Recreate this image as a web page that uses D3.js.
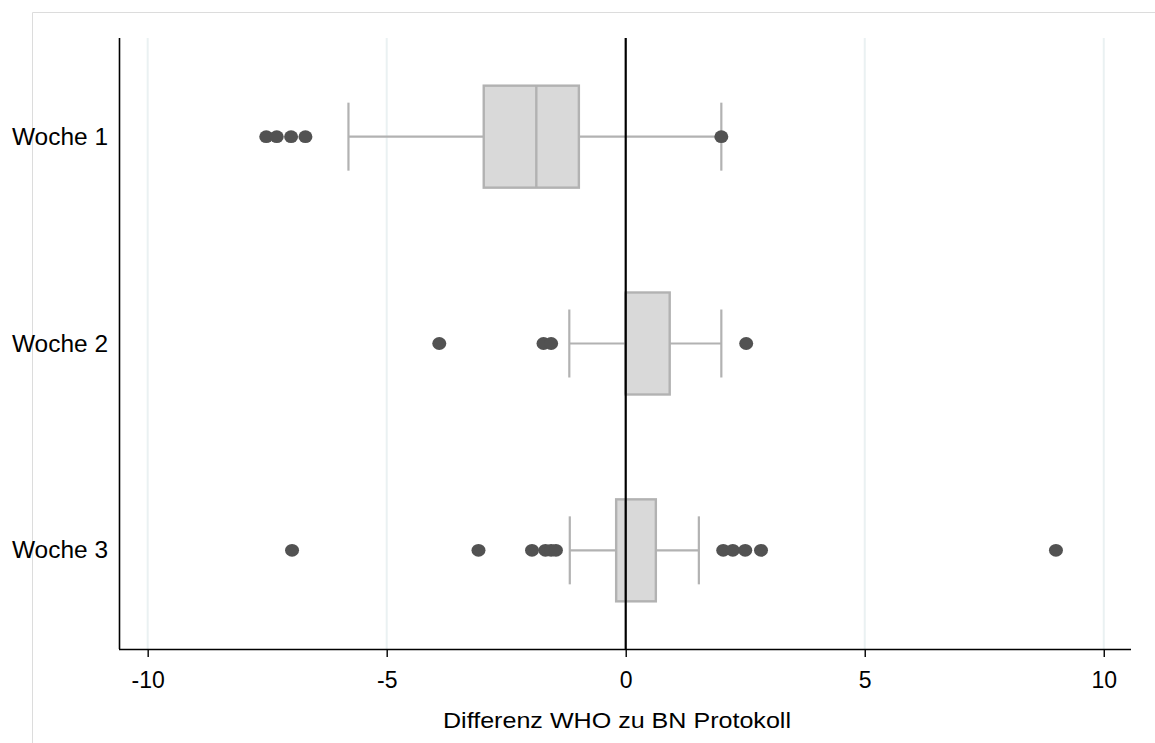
<!DOCTYPE html>
<html>
<head>
<meta charset="utf-8">
<script src="https://cdn.jsdelivr.net/npm/d3@7"></script>
<style>
  html, body { margin: 0; padding: 0; background: #fff; }
  svg { display: block; }
  text { font-family: "Liberation Sans", Arial, sans-serif; fill: #000; }
</style>
</head>
<body>
<svg id="chart" width="1155" height="743"></svg>
<script>
// ---- data ----
const categories = ["Woche 1", "Woche 2", "Woche 3"];
const q1 = [-2.97, 0.0, -0.2];
const medians = [-1.87, 0.0, 0.0];
const q3 = [-0.98, 0.92, 0.63];
const whiskerLow = [-5.8, -1.18, -1.17];
const whiskerHigh = [2.0, 2.0, 1.53];
const outliers = [
  [-7.52, -7.3, -7.0, -6.7, 2.0],
  [-3.9, -1.72, -1.56, 2.52],
  [-6.98, -3.08, -1.96, -1.68, -1.56, -1.46, 2.04, 2.24, 2.5, 2.83, 9.0]
];
const xTicks = [-10, -5, 0, 5, 10];
const xTitle = "Differenz WHO zu BN Protokoll";

// ---- layout ----
const svg = d3.select("#chart");
const plotLeft = 119, plotRight = 1131, plotTop = 38, plotBottom = 649;

const x = d3.scaleLinear().domain([-10.6, 10.57]).range([plotLeft, plotRight]);
const y = d3.scalePoint().domain(categories).range([plotTop, plotBottom]).padding(0.477);
const boxH = 102;
const grey = "#b2b2b2";

// outer graph-region frame
svg.append("path")
  .attr("d", `M32.5,743 V12.5 H1155`)
  .attr("fill", "none").attr("stroke", "#dcdcdc").attr("stroke-width", 1);

// gridlines
svg.append("g").selectAll("line")
  .data(xTicks.filter(d => d !== 0))
  .join("line")
  .attr("x1", d => x(d)).attr("x2", d => x(d))
  .attr("y1", plotTop).attr("y2", plotBottom)
  .attr("stroke", "#eaf1f2").attr("stroke-width", 2);

const groups = svg.append("g").selectAll("g")
  .data(categories.map((c, i) => ({c, i})))
  .join("g");

// whiskers (horizontal)
groups.append("line")
  .attr("x1", d => x(whiskerLow[d.i])).attr("x2", d => x(whiskerHigh[d.i]))
  .attr("y1", d => y(d.c)).attr("y2", d => y(d.c))
  .attr("stroke", grey).attr("stroke-width", 2.2);
// whisker caps
["low", "high"].forEach(k => {
  groups.append("line")
    .attr("x1", d => x(k === "low" ? whiskerLow[d.i] : whiskerHigh[d.i]))
    .attr("x2", d => x(k === "low" ? whiskerLow[d.i] : whiskerHigh[d.i]))
    .attr("y1", d => y(d.c) - 34).attr("y2", d => y(d.c) + 34)
    .attr("stroke", grey).attr("stroke-width", 2.2);
});
// boxes
groups.append("rect")
  .attr("x", d => x(q1[d.i]))
  .attr("width", d => x(q3[d.i]) - x(q1[d.i]))
  .attr("y", d => y(d.c) - boxH / 2)
  .attr("height", boxH)
  .attr("fill", "#d9d9d9").attr("stroke", grey).attr("stroke-width", 2.4);
// medians
groups.append("line")
  .attr("x1", d => x(medians[d.i])).attr("x2", d => x(medians[d.i]))
  .attr("y1", d => y(d.c) - boxH / 2).attr("y2", d => y(d.c) + boxH / 2)
  .attr("stroke", grey).attr("stroke-width", 2.4);
// outliers
groups.each(function(d) {
  d3.select(this).selectAll("ellipse")
    .data(outliers[d.i])
    .join("ellipse")
    .attr("cx", v => x(v)).attr("cy", y(d.c))
    .attr("rx", 7).attr("ry", 6.4)
    .attr("fill", "#525252");
});

// zero reference line
svg.append("line")
  .attr("x1", x(0)).attr("x2", x(0)).attr("y1", plotTop).attr("y2", plotBottom)
  .attr("stroke", "#000").attr("stroke-width", 2.2);

// x axis
const xAxis = svg.append("g")
  .attr("transform", `translate(0,${plotBottom})`)
  .call(d3.axisBottom(x).tickValues(xTicks).tickSize(8).tickPadding(15).tickFormat(d3.format("d")));
xAxis.select(".domain").attr("stroke", "#000").attr("stroke-width", 1.6).attr("d", `M${plotLeft},0.5H${plotRight}`);
xAxis.selectAll(".tick line").attr("stroke", "#000").attr("stroke-width", 1.4);
xAxis.selectAll(".tick text")
  .attr("font-size", 23).attr("font-family", "Liberation Sans, Arial, sans-serif")
  .attr("fill", "#000")
  .text(d => d < 0 ? "-" + Math.abs(d) : d);

// y axis
const yAxis = svg.append("g")
  .attr("transform", `translate(${plotLeft},0)`)
  .call(d3.axisLeft(y).tickSize(0).tickPadding(11));
yAxis.select(".domain").attr("stroke", "#000").attr("stroke-width", 1.6).attr("d", `M0.5,${plotTop}V${plotBottom}`);
yAxis.selectAll(".tick text")
  .attr("font-size", 23.5).attr("font-family", "Liberation Sans, Arial, sans-serif")
  .attr("fill", "#000")
  .attr("textLength", 96).attr("lengthAdjust", "spacingAndGlyphs");

// x title
svg.append("text")
  .attr("x", 617).attr("y", 728)
  .attr("text-anchor", "middle")
  .attr("font-size", 22)
  .attr("textLength", 348).attr("lengthAdjust", "spacingAndGlyphs")
  .text(xTitle);
</script>
</body>
</html>
